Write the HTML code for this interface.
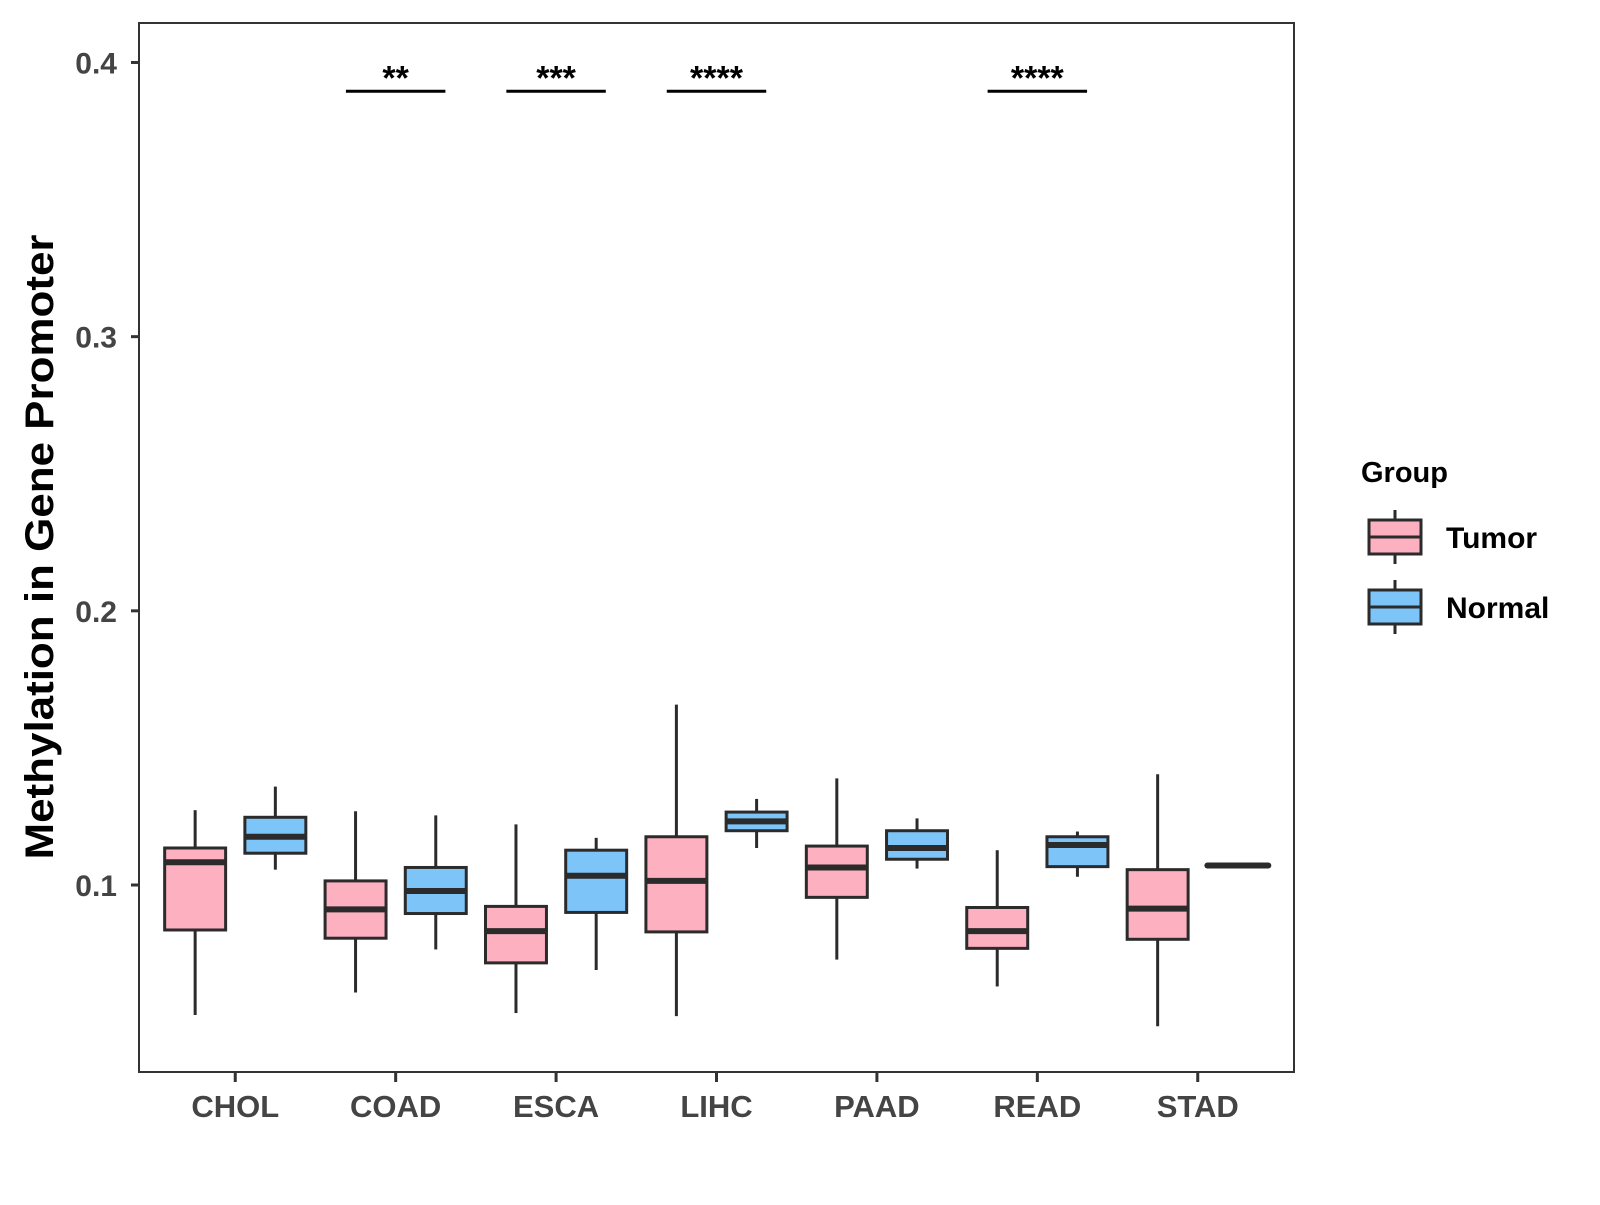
<!DOCTYPE html>
<html><head><meta charset="utf-8"><style>
body{margin:0;background:#fff;}
svg text{font-family:"Liberation Sans",Arial,sans-serif;font-weight:bold;}
</style></head><body>
<svg id="chart" width="1600" height="1200" xmlns="http://www.w3.org/2000/svg"></svg>
<script>
const categories=["CHOL","COAD","ESCA","LIHC","PAAD","READ","STAD"];
const groups=["Tumor","Normal"];
const groupColors=["#FDB0C0","#7DC4F8"];
// [lowerWhisker, q1, median, q3, upperWhisker]
const tumorStats=[[0.0526,0.0836,0.1083,0.1135,0.1273],[0.0608,0.0806,0.0911,0.1015,0.1269],[0.0533,0.0716,0.0832,0.0922,0.1221],[0.0522,0.0829,0.1015,0.1176,0.1658],[0.0728,0.0955,0.1064,0.1142,0.1389],[0.0630,0.0769,0.0832,0.0918,0.1127],[0.0485,0.0802,0.0914,0.1056,0.1404]];
const normalStats=[[0.1056,0.1116,0.1176,0.1247,0.1359],[0.0765,0.0896,0.0978,0.1064,0.1254],[0.0690,0.0900,0.1034,0.1127,0.1172],[0.1135,0.1198,0.1232,0.1266,0.1314],[0.1060,0.1094,0.1135,0.1198,0.1243],[0.1030,0.1067,0.1146,0.1176,0.1195],[0.1071,0.1071,0.1071,0.1071,0.1071]];
const yTicks=[0.1,0.2,0.3,0.4];
const sigCats=["COAD","ESCA","LIHC","READ"];
const sigLabels=["**","***","****","****"];
const sigY=0.3895;

const svg=document.getElementById('chart');
const NS="http://www.w3.org/2000/svg";
const L=139,R=1294,T=23,B=1072;
const yMin=0.0318,yMax=0.4144;
const step=(R-L)/(categories.length-1+1.2);
function x(i){return L+step*(0.6+i);}
function y(v){return B-(v-yMin)/(yMax-yMin)*(B-T);}
function el(tag,attrs,parent){const e=document.createElementNS(NS,tag);for(const k in attrs)e.setAttribute(k,attrs[k]);(parent||svg).appendChild(e);return e;}

const panel=el('rect',{x:L,y:T,width:R-L,height:B-T,fill:'#fff',stroke:'#333','stroke-width':2});



yTicks.forEach(v=>{
  const g=el('g',{});
  
  
  el('line',{x1:L-8,x2:L,y1:y(v),y2:y(v),stroke:'#333','stroke-width':3},g);
  const t=el('text',{x:L-22,y:y(v)+11,'text-anchor':'end','font-size':30,fill:'#444'},g);
  t.textContent=v.toFixed(1);
});
categories.forEach((c,i)=>{
  const g=el('g',{});
  
  
  el('line',{x1:x(i),x2:x(i),y1:B,y2:B+10,stroke:'#333','stroke-width':3},g);
  const t=el('text',{x:x(i),y:B+45,'text-anchor':'middle','font-size':31,fill:'#444'},g);
  t.textContent=c;
});
const yt=el('text',{x:0,y:0,'text-anchor':'middle','font-size':40,fill:'#000',textLength:625,lengthAdjust:'spacingAndGlyphs',transform:'translate(53,547) rotate(-90)'});


yt.textContent='Methylation in Gene Promoter';

const bw=step*0.38;
function drawBox(s,cx,color,name){
  const g=el('g',{});
  
  
  const [lo,q1,md,q3,hi]=s;
  if(q3-q1<0.0005){
    el('line',{x1:cx-bw/2,x2:cx+bw/2,y1:y(md),y2:y(md),stroke:'#2b2b2b','stroke-width':6,'stroke-linecap':'round'},g);
    return;
  }
  el('line',{x1:cx,x2:cx,y1:y(hi),y2:y(q3),stroke:'#2b2b2b','stroke-width':3},g);
  el('line',{x1:cx,x2:cx,y1:y(q1),y2:y(lo),stroke:'#2b2b2b','stroke-width':3},g);
  el('rect',{x:cx-bw/2,y:y(q3),width:bw,height:y(q1)-y(q3),fill:color,stroke:'#2b2b2b','stroke-width':3},g);
  el('line',{x1:cx-bw/2,x2:cx+bw/2,y1:y(md),y2:y(md),stroke:'#2b2b2b','stroke-width':6},g);
}
categories.forEach((c,i)=>{
  drawBox(tumorStats[i],x(i)-step*0.25,groupColors[0],'box-tumor-'+c.toLowerCase());
  drawBox(normalStats[i],x(i)+step*0.25,groupColors[1],'box-normal-'+c.toLowerCase());
});
sigCats.forEach((c,k)=>{
  const i=categories.indexOf(c);
  const g=el('g',{});
  
  
  el('line',{x1:x(i)-step*0.31,x2:x(i)+step*0.31,y1:y(sigY),y2:y(sigY),stroke:'#000','stroke-width':3},g);
  const t=el('text',{x:x(i),y:y(sigY)-2,'text-anchor':'middle','font-size':34,fill:'#000'},g);
  t.textContent=sigLabels[k];
});
// legend
const lg=el('g',{});


const lt=el('text',{x:1361,y:482,'font-size':29,fill:'#000'},lg);
lt.textContent='Group';
groups.forEach((gname,k)=>{
  const g=el('g',{},lg);
  
  
  const cy=537+k*70;
  el('line',{x1:1395,x2:1395,y1:cy-27,y2:cy+27,stroke:'#2b2b2b','stroke-width':3},g);
  el('rect',{x:1369,y:cy-17,width:52,height:34,fill:groupColors[k],stroke:'#2b2b2b','stroke-width':3},g);
  el('line',{x1:1369,x2:1421,y1:cy,y2:cy,stroke:'#2b2b2b','stroke-width':3},g);
  const t=el('text',{x:1446,y:cy+11,'font-size':30,fill:'#000'},g);
  t.textContent=gname;
});
</script>
</body></html>
